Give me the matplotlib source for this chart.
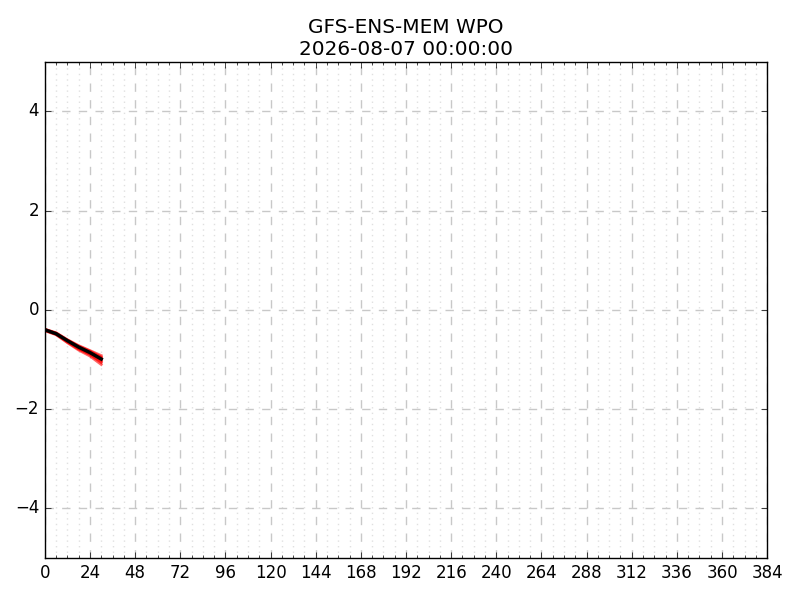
import numpy as np
import matplotlib.pyplot as plt
import matplotlib.ticker as mticker

plt.style.use('classic')

# forecast hours
hours = [0, 6, 12, 18, 24, 30]
# ensemble members (WPO index)
mem01 = [-0.39, -0.46, -0.60, -0.72, -0.82, -0.92]
mem02 = [-0.40, -0.47, -0.61, -0.74, -0.84, -0.95]
mem03 = [-0.40, -0.48, -0.63, -0.77, -0.88, -1.02]
mem04 = [-0.41, -0.49, -0.65, -0.79, -0.90, -1.06]
mem05 = [-0.42, -0.50, -0.66, -0.81, -0.93, -1.10]
mem06 = [-0.39, -0.47, -0.61, -0.73, -0.83, -0.96]
mem07 = [-0.41, -0.49, -0.64, -0.78, -0.89, -1.04]
mem08 = [-0.40, -0.48, -0.62, -0.76, -0.86, -0.98]
members = [mem01, mem02, mem03, mem04, mem05, mem06, mem07, mem08]
# ensemble mean
ens_mean = [-0.40, -0.48, -0.62, -0.75, -0.86, -0.99]

fig = plt.figure(figsize=(8, 6), dpi=100)
ax = fig.add_axes([0.056, 0.07, 0.903, 0.827])

for m in members:
    ax.plot(hours, m, color='red', lw=2, alpha=0.6)
ax.plot(hours, ens_mean, color='black', lw=2.5)

ax.set_xlim(0, 384)
ax.set_ylim(-5, 5)
ax.xaxis.set_major_locator(mticker.MultipleLocator(24))
ax.xaxis.set_minor_locator(mticker.MultipleLocator(6))
ax.yaxis.set_major_locator(mticker.MultipleLocator(2))
ax.yaxis.set_minor_locator(mticker.NullLocator())
ax.grid(which='major', color='#c8c8c8', linestyle='--', lw=1)
ax.grid(which='minor', axis='x', color='#e0e0e0', linestyle=':', lw=1)
ax.set_axisbelow(True)

ax.set_title('GFS-ENS-MEM WPO\n2026-08-07 00:00:00', fontsize=14.4)
ax.tick_params(labelsize=12)

fig.savefig('out.png', dpi=100)
